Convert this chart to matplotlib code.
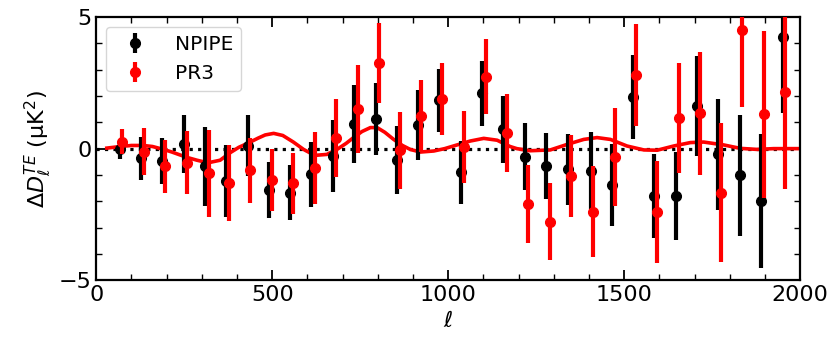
import numpy as np
import matplotlib
matplotlib.use('Agg')
import matplotlib.pyplot as plt

# NPIPE binned residuals
ell_npipe = [67, 127, 188, 249, 310, 370, 430, 490, 551, 610, 673, 733, 794, 854, 915, 974,
             1036, 1097, 1157, 1219, 1279, 1340, 1405, 1465, 1526, 1586, 1646, 1707, 1767, 1829, 1889, 1950]
dl_npipe = [-0.03, -0.37, -0.48, 0.17, -0.67, -1.24, 0.11, -1.58, -1.68, -0.97, -0.29, 0.93, 1.12, -0.44, 0.88, 1.84,
            -0.90, 2.10, 0.73, -0.31, -0.67, -0.79, -0.84, -1.39, 1.97, -1.81, -1.81, 1.62, -0.22, -1.01, -1.98, 4.23]
err_npipe = [0.37, 0.82, 0.88, 1.10, 1.50, 1.37, 1.16, 1.06, 1.05, 1.24, 1.37, 1.47, 1.37, 1.29, 1.33, 1.20,
             1.20, 1.23, 1.27, 1.28, 1.26, 1.34, 1.47, 1.55, 1.60, 1.60, 1.68, 1.90, 2.11, 2.30, 2.55, 2.89]

# PR3 binned residuals
ell_pr3 = [74, 136, 196, 257, 319, 378, 438, 498, 560, 621, 681, 743, 802, 864, 923, 983,
           1044, 1107, 1166, 1227, 1288, 1348, 1412, 1473, 1533, 1593, 1655, 1716, 1776, 1836, 1898, 1957]
dl_pr3 = [0.26, -0.12, -0.67, -0.54, -0.94, -1.32, -0.82, -1.20, -1.32, -0.75, 0.39, 1.50, 3.26, -0.06, 1.24, 1.89,
          0.07, 2.73, 0.60, -2.11, -2.78, -1.03, -2.40, -0.31, 2.79, -2.40, 1.17, 1.34, -1.67, 4.50, 1.30, 2.16]
err_pr3 = [0.48, 0.90, 1.00, 1.20, 1.65, 1.44, 1.23, 1.17, 1.17, 1.37, 1.48, 1.67, 1.53, 1.47, 1.36, 1.36,
           1.37, 1.43, 1.47, 1.47, 1.46, 1.56, 1.73, 1.86, 1.94, 1.93, 2.09, 2.34, 2.63, 2.90, 3.19, 3.70]

# model difference curve
ell_model = [30, 68, 100, 134, 160, 191, 215, 238, 262, 286, 305, 324, 352, 381, 405, 430, 460, 480, 504, 530,
             560, 589, 610, 627, 655, 684, 710, 731, 755, 779, 798, 820, 845, 870, 892, 921, 959, 990, 1015, 1040,
             1063, 1101, 1139, 1176, 1195, 1233, 1290, 1338, 1385, 1423, 1461, 1508, 1556, 1594, 1641, 1688, 1726,
             1783, 1830, 1878, 1925, 1963, 2000]
dl_model = [0.02, 0.08, 0.12, 0.12, 0.08, -0.03, -0.13, -0.24, -0.35, -0.44, -0.50, -0.52, -0.44, -0.15, 0.05, 0.20,
            0.40, 0.52, 0.58, 0.50, 0.25, -0.03, -0.18, -0.25, -0.22, -0.03, 0.20, 0.42, 0.65, 0.80, 0.80, 0.62,
            0.35, 0.12, -0.03, -0.13, -0.09, 0.00, 0.10, 0.20, 0.29, 0.39, 0.32, 0.08, 0.00, -0.08, -0.05, 0.16,
            0.35, 0.42, 0.35, 0.10, -0.05, -0.06, 0.10, 0.23, 0.25, 0.14, 0.01, -0.03, 0.00, 0.00, 0.00]

fig = plt.figure(figsize=(8.3, 3.56), dpi=100)
ax = fig.add_axes([0.116, 0.213, 0.848, 0.739])

ax.axhline(0, color='k', ls=':', lw=2.3, zorder=1)
ax.plot(ell_model, dl_model, color='r', lw=2.6, zorder=2)
ax.errorbar(ell_npipe, dl_npipe, yerr=err_npipe, fmt='o', color='k', ms=7, elinewidth=3,
            capsize=0, label='NPIPE', zorder=3)
ax.errorbar(ell_pr3, dl_pr3, yerr=err_pr3, fmt='o', color='r', ms=7, elinewidth=3,
            capsize=0, label='PR3', zorder=4)

ax.set_xlim(0, 2000)
ax.set_ylim(-5, 5)
ax.set_xticks([0, 500, 1000, 1500, 2000])
ax.set_xticks(np.arange(0, 2001, 100), minor=True)
ax.set_yticks([-5, 0, 5])
ax.set_yticks(np.arange(-5, 6, 1), minor=True)
ax.tick_params(which='both', direction='in', top=True, right=True, labelsize=16)
ax.tick_params(which='major', length=7, width=1.3)
ax.tick_params(which='minor', length=4, width=1.0)
for s in ax.spines.values():
    s.set_linewidth(1.6)

ax.set_xlabel(r'$\ell$', fontsize=16)
ax.set_ylabel(r'$\Delta D_\ell^{TE}$ (μK$^2$)', fontsize=16)

ax.legend(loc='upper left', fontsize=14.5, handletextpad=1.0)

fig.savefig('out.png', dpi=100)
